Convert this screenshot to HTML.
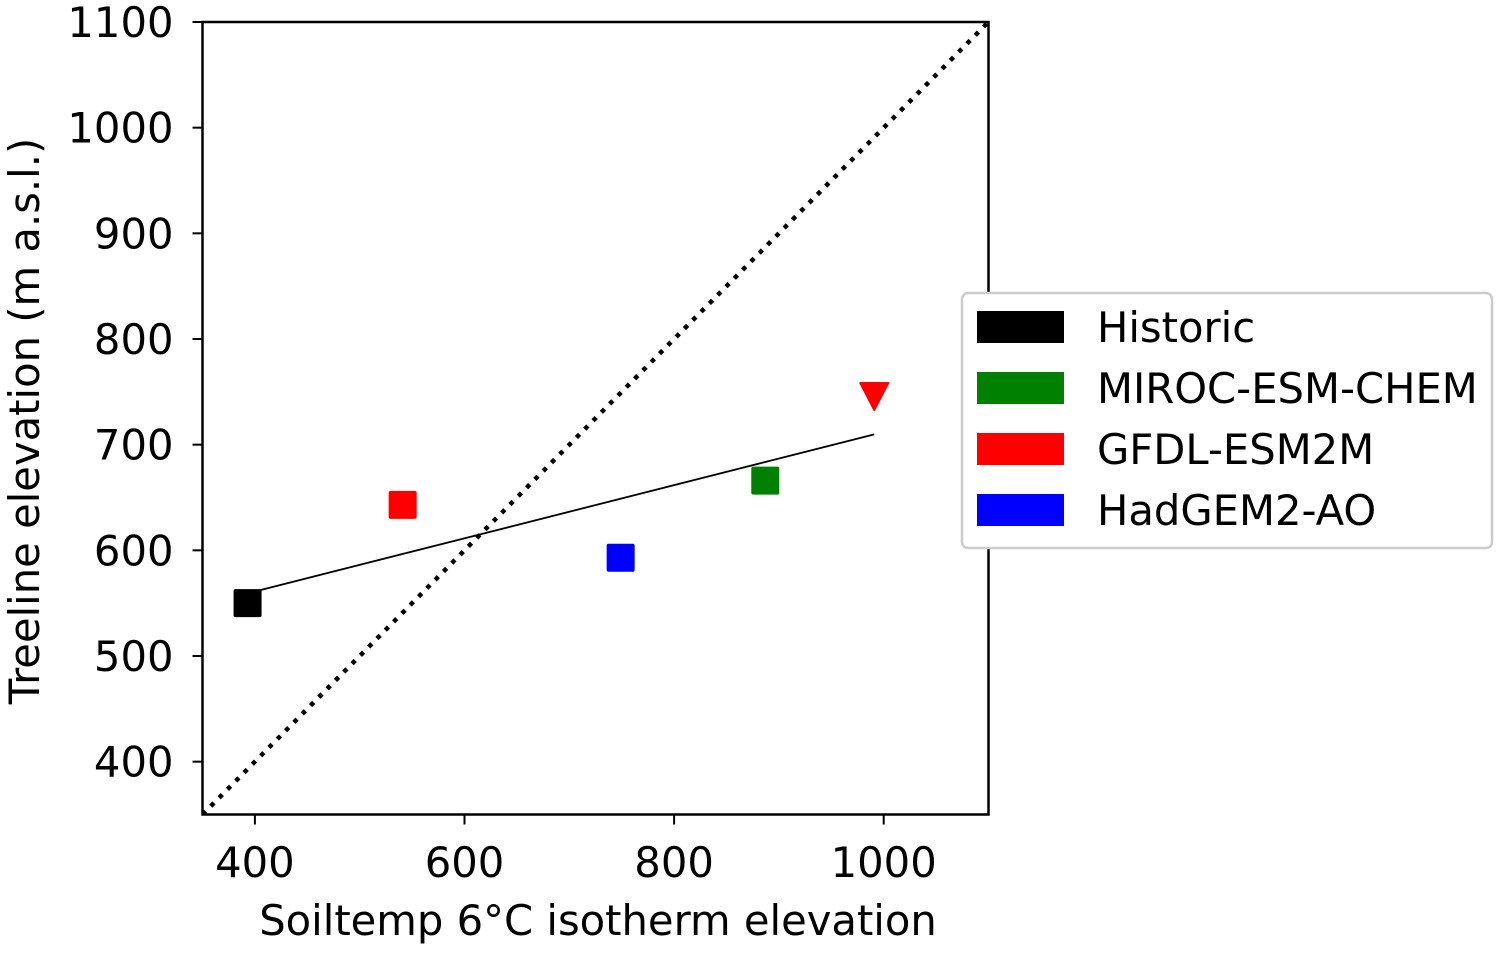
<!DOCTYPE html>
<html><head><meta charset="utf-8"><style>
html,body{margin:0;padding:0;background:#fff;}
svg text{font-family:"DejaVu Sans","Liberation Sans",sans-serif;fill:#000;}
</style></head><body>
<svg id="chart" width="1502" height="951" viewBox="0 0 1502 951" xmlns="http://www.w3.org/2000/svg"></svg>
<script>
const seriesNames = ["Historic","MIROC-ESM-CHEM","GFDL-ESM2M","HadGEM2-AO"];
const seriesColors = ["#000000","#008000","#ff0000","#0000ff"];
const pointX = [393, 541, 749, 887, 991];
const pointY = [550, 643, 593, 666, 746];
const pointSeries = [0, 2, 3, 1, 2];
const pointMarker = ["s","s","s","s","v"];
const xTicks = [400, 600, 800, 1000];
const yTicks = [400, 500, 600, 700, 800, 900, 1000, 1100];

const FS=41.7;
const L=202.5,R=988.5,T=22,B=814.5;
const xMin=350,xMax=1100,yMin=350,yMax=1100;
const sx=v=>L+(v-xMin)/(xMax-xMin)*(R-L);
const sy=v=>B-(v-yMin)/(yMax-yMin)*(B-T);
const svg=document.getElementById('chart');
const NS="http://www.w3.org/2000/svg";
function mk(tag,attrs,parent){const e=document.createElementNS(NS,tag);for(const k in attrs)e.setAttribute(k,attrs[k]);(parent||svg).appendChild(e);return e;}

const defs=mk('defs',{});const cp=mk('clipPath',{id:'clip'},defs);mk('rect',{x:L,y:T,width:R-L,height:B-T},cp);

const oneLine=mk('line',{x1:sx(xMin),y1:sy(xMin),x2:sx(xMax),y2:sy(xMax),stroke:'#000','stroke-width':4.5,'stroke-dasharray':'4.5 7.3','clip-path':'url(#clip)'});



const n=pointX.length;const mx=pointX.reduce((a,b)=>a+b)/n,my=pointY.reduce((a,b)=>a+b)/n;
let sxy=0,sxx=0;for(let i=0;i<n;i++){sxy+=(pointX[i]-mx)*(pointY[i]-my);sxx+=(pointX[i]-mx)**2;}
const slope=sxy/sxx,icpt=my-slope*mx;
const x0=Math.min(...pointX),x1=Math.max(...pointX);
const fit=mk('line',{x1:sx(x0),y1:sy(icpt+slope*x0),x2:sx(x1),y2:sy(icpt+slope*x1),stroke:'#000','stroke-width':1.8});



for(let i=0;i<n;i++){
  const cx=sx(pointX[i]),cy=sy(pointY[i]),c=seriesColors[pointSeries[i]];
  let m;
  if(pointMarker[i]==='s'){m=mk('rect',{x:cx-14,y:cy-14,width:28,height:28,rx:2,fill:c});}
  else{m=mk('path',{d:`M${cx-14},${cy-13} L${cx+14},${cy-13} L${cx},${cy+14} Z`,fill:c,stroke:c,'stroke-width':2,'stroke-linejoin':'round'});}
  
  
}

const frame=mk('rect',{x:L,y:T,width:R-L,height:B-T,fill:'none',stroke:'#000','stroke-width':2.5});



xTicks.forEach(v=>{
  mk('line',{x1:sx(v),y1:B,x2:sx(v),y2:B+10,stroke:'#000','stroke-width':2});
  const t=mk('text',{x:sx(v),y:B+62.5,'font-size':FS,'text-anchor':'middle'});t.textContent=v;
  
  
});
yTicks.forEach(v=>{
  mk('line',{x1:L-10,y1:sy(v),x2:L,y2:sy(v),stroke:'#000','stroke-width':2});
  const t=mk('text',{x:L-29,y:sy(v)+15,'font-size':FS,'text-anchor':'end'});t.textContent=v;
  
  
});
const xt=mk('text',{x:598,y:935,'font-size':FS,'text-anchor':'middle'});xt.textContent='Soiltemp 6°C isotherm elevation';


const yt=mk('text',{x:0,y:0,'font-size':FS,'text-anchor':'middle',transform:'translate(39,421) rotate(-90)'});yt.textContent='Treeline elevation (m a.s.l.)';



const lg=mk('g',{});


mk('rect',{x:962,y:293,width:530,height:255,rx:6,fill:'#fff',stroke:'#cccccc','stroke-width':2.5},lg);
seriesNames.forEach((s,i)=>{
  const y=311+i*61;
  const e=mk('g',{},lg);
  
  
  mk('rect',{x:977,y:y,width:87,height:32,fill:seriesColors[i]},e);
  const t=mk('text',{x:1097,y:y+31,'font-size':FS},e);t.textContent=s;
});
</script>
</body></html>
